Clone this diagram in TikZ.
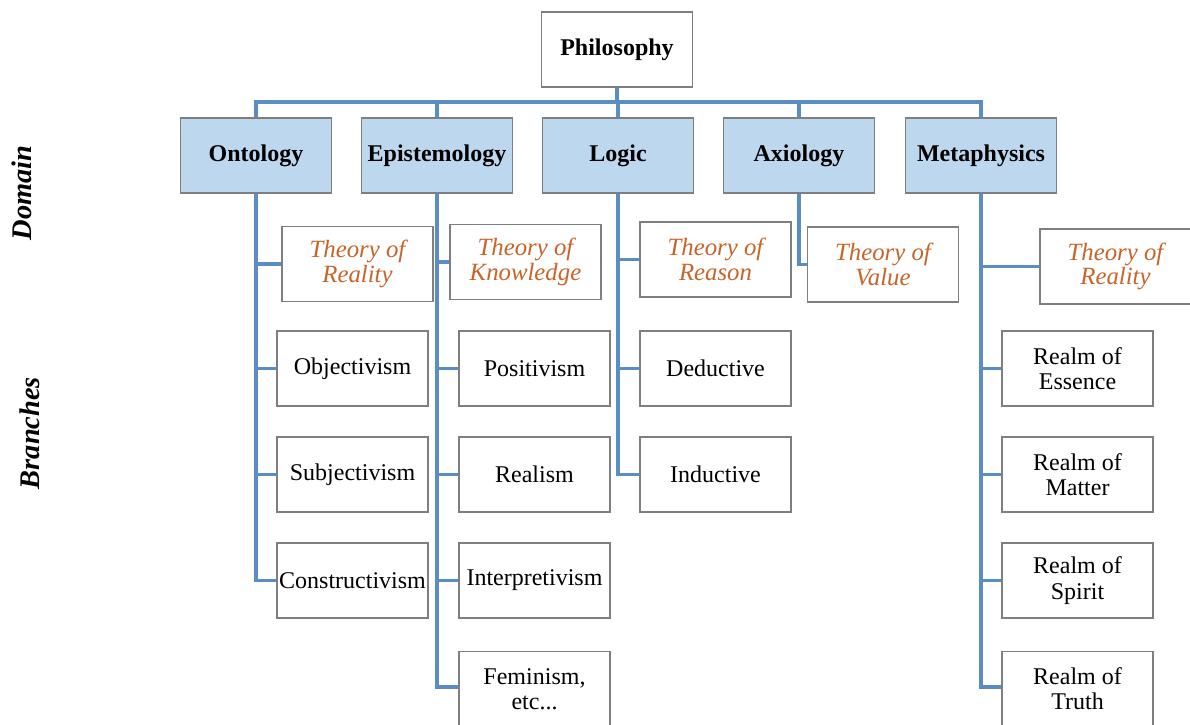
\documentclass[tikz,border=0pt]{standalone}
\usepackage{fontspec}
\setmainfont{Liberation Serif}
\usetikzlibrary{backgrounds}
\begin{document}
\begin{tikzpicture}[x=0.5pt,y=-0.5pt,
  box/.style={draw=boxgray,line width=0.7pt,fill=white,minimum width=75.5pt,minimum height=37.5pt,
    inner sep=1pt,align=center,font=\fontsize{12}{12.6}\selectfont},
  domainbox/.style={box,fill=domainfill,font=\fontsize{12}{13}\selectfont\bfseries},
  theorybox/.style={box,text=theoryorange,font=\fontsize{12.4}{12.2}\selectfont\itshape},
  link/.style={draw=linkblue,line width=1.6pt},
  sidelabel/.style={rotate=90,font=\fontsize{14.2}{16}\selectfont\bfseries\itshape}]
\definecolor{boxgray}{HTML}{7F7F7F}
\definecolor{domainfill}{HTML}{BDD7EE}
\definecolor{linkblue}{HTML}{5A8DC4}
\definecolor{theoryorange}{HTML}{C8642A}
\useasboundingbox (0,0) rectangle (1190,724);
\clip (0,0) rectangle (1190,724);

% side labels
\node[sidelabel] (domainlbl) at (22,193) {Domain};
\node[sidelabel] (brancheslbl) at (30,433) {Branches};

% root and domains
\node[box,font=\fontsize{12}{13}\selectfont\bfseries] (phil) at (617,49.5) {Philosophy};
\coordinate (bus) at (617,102);
\node[domainbox] (ont) at (256,155.5) {Ontology};
\node[domainbox] (epi) at (437,155.5) {Epistemology};
\node[domainbox] (log) at (618,155.5) {Logic};
\node[domainbox] (axi) at (799,155.5) {Axiology};
\node[domainbox] (met) at (981,155.5) {Metaphysics};

% Ontology branches
\node[theorybox] (ont0) at (357.5,264) {Theory of\\Reality};
\node[box] (ont1) at (352.5,368.5) {Objectivism};
\node[box] (ont2) at (352.5,474.5) {Subjectivism};
\node[box] (ont3) at (352.5,580.5) {Constructivism};

% Epistemology branches
\node[theorybox] (epi0) at (525.5,262) {Theory of\\Knowledge};
\node[box] (epi1) at (534.5,368.5) {Positivism};
\node[box] (epi2) at (534.5,474.5) {Realism};
\node[box] (epi3) at (534.5,580.5) {Interpretivism};
\node[box] (epi4) at (534.5,689) {Feminism,\\etc...};

% Logic branches
\node[theorybox] (log0) at (715.5,259.5) {Theory of\\Reason};
\node[box] (log1) at (715.5,368.5) {Deductive};
\node[box] (log2) at (715.5,474.5) {Inductive};

% Axiology branch
\node[theorybox] (axi0) at (883,264.5) {Theory of\\Value};

% Metaphysics branches
\node[theorybox] (met0) at (1115.5,266.5) {Theory of\\Reality};
\node[box] (met1) at (1077.5,368.5) {Realm of\\Essence};
\node[box] (met2) at (1077.5,474.5) {Realm of\\Matter};
\node[box] (met3) at (1077.5,580.5) {Realm of\\Spirit};
\node[box] (met4) at (1077.5,689) {Realm of\\Truth};

% connectors, kept behind the boxes
\begin{pgfonlayer}{background}
\draw[link] (phil.south) -- (bus);
\foreach \d in {ont,epi,log,axi,met}
  \draw[link] (bus) -| (\d.north);
\foreach \c in {ont0,ont1,ont2,ont3} \draw[link] (ont.south) |- (\c.west);
\foreach \c in {epi0,epi1,epi2,epi3} \draw[link] (epi.south) |- (\c.west);
\draw[link] (epi.south) |- ([yshift=1pt]epi4.west);
\foreach \c in {log0,log1,log2} \draw[link] (log.south) |- (\c.west);
\draw[link] (axi.south) |- (axi0.west);
\foreach \c in {met0,met1,met2,met3} \draw[link] (met.south) |- (\c.west);
\draw[link] (met.south) |- ([yshift=1pt]met4.west);
\end{pgfonlayer}
\end{tikzpicture}
\end{document}
